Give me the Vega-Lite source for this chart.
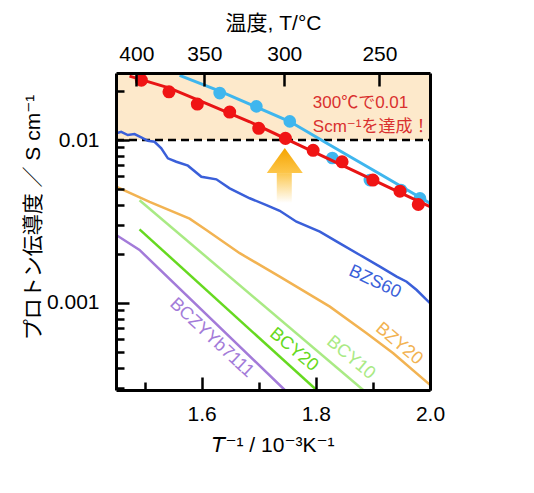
{
  "$schema": "https://vega.github.io/schema/vega-lite/v6.json",
  "width": 314,
  "height": 317,
  "autosize": {"type": "none"},
  "padding": {"left": 116, "top": 73, "right": 104, "bottom": 103},
  "background": "white",
  "config": {
    "font": "Liberation Sans, Noto Sans CJK JP, DejaVu Sans",
    "view": {"stroke": null},
    "axis": {"grid": false, "labelColor": "black", "titleColor": "black", "tickColor": "black", "domainColor": "black", "titleFontWeight": "normal", "labelFlush": false, "labelOverlap": false}
  },
  "datasets": {
    "lines": [
      {"s": "BZS60", "x": 1.4503, "y": 0.01099},
      {"s": "BZS60", "x": 1.4591, "y": 0.01124},
      {"s": "BZS60", "x": 1.4707, "y": 0.01073},
      {"s": "BZS60", "x": 1.4825, "y": 0.01088},
      {"s": "BZS60", "x": 1.4942, "y": 0.01039},
      {"s": "BZS60", "x": 1.5058, "y": 0.0099},
      {"s": "BZS60", "x": 1.5175, "y": 0.00976},
      {"s": "BZS60", "x": 1.5293, "y": 0.00889},
      {"s": "BZS60", "x": 1.5409, "y": 0.00772},
      {"s": "BZS60", "x": 1.5556, "y": 0.00736},
      {"s": "BZS60", "x": 1.576, "y": 0.00696},
      {"s": "BZS60", "x": 1.5995, "y": 0.00595},
      {"s": "BZS60", "x": 1.6258, "y": 0.00574},
      {"s": "BZS60", "x": 1.6491, "y": 0.00505},
      {"s": "BZS60", "x": 1.6842, "y": 0.00439},
      {"s": "BZS60", "x": 1.7135, "y": 0.00399},
      {"s": "BZS60", "x": 1.7368, "y": 0.00368},
      {"s": "BZS60", "x": 1.7661, "y": 0.00315},
      {"s": "BZS60", "x": 1.807, "y": 0.00274},
      {"s": "BZS60", "x": 1.8421, "y": 0.00232},
      {"s": "BZS60", "x": 1.8772, "y": 0.00197},
      {"s": "BZS60", "x": 1.9123, "y": 0.00167},
      {"s": "BZS60", "x": 1.9416, "y": 0.00145},
      {"s": "BZS60", "x": 1.9591, "y": 0.00135},
      {"s": "BZS60", "x": 1.9767, "y": 0.0012},
      {"s": "BZS60", "x": 2.0, "y": 0.000996},
      {"s": "BZY20", "x": 1.4503, "y": 0.00517},
      {"s": "BZY20", "x": 1.5088, "y": 0.00417},
      {"s": "BZY20", "x": 1.5789, "y": 0.00329},
      {"s": "BZY20", "x": 1.6082, "y": 0.0028},
      {"s": "BZY20", "x": 1.6667, "y": 0.00202},
      {"s": "BZY20", "x": 1.7368, "y": 0.00145},
      {"s": "BZY20", "x": 1.7661, "y": 0.00126},
      {"s": "BZY20", "x": 1.8246, "y": 0.000949},
      {"s": "BZY20", "x": 1.889, "y": 0.000652},
      {"s": "BZY20", "x": 1.9356, "y": 0.000491},
      {"s": "BZY20", "x": 2.0, "y": 0.000314},
      {"s": "BCY10", "x": 1.4912, "y": 0.00427},
      {"s": "BCY10", "x": 1.883, "y": 0.000292},
      {"s": "BCY20", "x": 1.4912, "y": 0.00283},
      {"s": "BCY20", "x": 1.8012, "y": 0.000292},
      {"s": "BCZYYb7111", "x": 1.4503, "y": 0.002614},
      {"s": "BCZYYb7111", "x": 1.4912, "y": 0.002114},
      {"s": "BCZYYb7111", "x": 1.7456, "y": 0.000292}
    ],
    "blueFit": [
      {"x": 1.5614, "y": 0.02495},
      {"x": 1.6316, "y": 0.01998},
      {"x": 1.6942, "y": 0.01605},
      {"x": 1.7544, "y": 0.01299},
      {"x": 1.8246, "y": 0.00932},
      {"x": 1.9123, "y": 0.00619},
      {"x": 2.0, "y": 0.00409}
    ],
    "bluePts": [
      {"x": 1.6316, "y": 0.01943},
      {"x": 1.6959, "y": 0.0161},
      {"x": 1.7544, "y": 0.01302},
      {"x": 1.8289, "y": 0.00776},
      {"x": 1.8947, "y": 0.00568},
      {"x": 1.9491, "y": 0.00493},
      {"x": 1.9825, "y": 0.00438}
    ],
    "redFit": [
      {"x": 1.4737, "y": 0.0247},
      {"x": 1.5439, "y": 0.02085},
      {"x": 1.614, "y": 0.01644},
      {"x": 1.6842, "y": 0.01295},
      {"x": 1.7719, "y": 0.00928},
      {"x": 1.8596, "y": 0.00665},
      {"x": 1.9298, "y": 0.00509},
      {"x": 2.0, "y": 0.0039}
    ],
    "redPts": [
      {"x": 1.4944, "y": 0.02333},
      {"x": 1.5428, "y": 0.01978},
      {"x": 1.5925, "y": 0.01663},
      {"x": 1.6491, "y": 0.01485},
      {"x": 1.7, "y": 0.0118},
      {"x": 1.7468, "y": 0.01024},
      {"x": 1.7953, "y": 0.00865},
      {"x": 1.846, "y": 0.00735},
      {"x": 1.9, "y": 0.00568},
      {"x": 1.9474, "y": 0.00485},
      {"x": 1.9795, "y": 0.00402}
    ],
    "labels": [
      {"t": "BZS60", "x": 1.9035, "y": 0.001345, "a": 25, "c": "#3a5fd9"},
      {"t": "BZY20", "x": 1.9456, "y": 0.00056, "a": 40, "c": "#f2b352"},
      {"t": "BCY10", "x": 1.8614, "y": 0.00046, "a": 40, "c": "#a9ea84"},
      {"t": "BCY20", "x": 1.7614, "y": 0.000515, "a": 40, "c": "#66d920"},
      {"t": "BCZYYb7111", "x": 1.6175, "y": 0.00061, "a": 43, "c": "#a37bd9"}
    ]
  },
  "resolve": {"axis": {"x": "independent", "y": "independent"}},
  "layer": [
    {
      "data": {"values": [{"x": 1.45, "x2": 2.0, "y": 0.01, "y2": 0.0258}]},
      "mark": {"type": "rect", "color": "#fde9cb"},
      "encoding": {
        "x": {"field": "x", "type": "quantitative", "scale": {"domain": [1.45, 2.0], "nice": false, "zero": false},
          "axis": {"orient": "bottom", "values": [1.6, 1.8, 2.0], "format": ".1f", "tickSize": -13, "tickWidth": 2.5, "domain": true, "domainWidth": 3, "labelFontSize": 21, "labelPadding": 26, "title": "𝘛⁻¹ / 10⁻³K⁻¹", "titleFontSize": 21, "titleY": 55, "titleBaseline": "middle", "zindex": 2}},
        "x2": {"field": "x2"},
        "y": {"field": "y", "type": "quantitative", "scale": {"type": "log", "domain": [0.000292, 0.0258], "nice": false},
          "axis": {"orient": "left", "values": [0.01, 0.001], "labelExpr": "datum.value > 0.005 ? '0.01' : '0.001'", "tickSize": -13, "tickWidth": 2.5, "domain": true, "domainWidth": 3, "labelFontSize": 21, "labelPadding": 30, "title": "プロトン伝導度  ／  S cm⁻¹", "titleFontSize": 21, "titleX": -83, "titleY": 144, "titleAngle": 270, "titleBaseline": "middle", "titleAlign": "center", "zindex": 2}},
        "y2": {"field": "y2"}
      }
    },
    {
      "data": {"values": [{"x": 1.45, "x2": 2.0, "y": 0.01}]},
      "mark": {"type": "rule", "color": "black", "strokeWidth": 2.5, "strokeDash": [8, 5]},
      "encoding": {
        "x": {"field": "x", "type": "quantitative",
          "axis": {"orient": "bottom", "values": [1.5, 1.7, 1.9], "labels": false, "tickSize": -8, "tickWidth": 2.5, "domain": false, "title": null, "zindex": 2}},
        "x2": {"field": "x2"},
        "y": {"field": "y", "type": "quantitative",
          "axis": {"orient": "left", "values": [0.0003, 0.0004, 0.0005, 0.0006, 0.0007, 0.0008, 0.0009, 0.002, 0.003, 0.004, 0.005, 0.006, 0.007, 0.008, 0.009, 0.02], "labels": false, "tickSize": -8, "tickWidth": 2.5, "domain": false, "title": null, "zindex": 2}}
      }
    },
    {
      "data": {"name": "lines"},
      "mark": {"type": "line", "strokeWidth": 2.5, "clip": true},
      "encoding": {
        "x": {"field": "x", "type": "quantitative",
          "axis": {"orient": "top", "values": [1.48558, 1.60475, 1.74474, 1.91137], "labelExpr": "format(1000 / datum.value - 273.15, '.0f')", "tickSize": -13, "tickWidth": 2.5, "domain": true, "domainWidth": 3, "labelFontSize": 21, "labelPadding": 22, "title": "温度, T/°C", "titleFontSize": 21, "titleY": -50, "titleBaseline": "middle", "zindex": 2}},
        "y": {"field": "y", "type": "quantitative",
          "axis": {"orient": "right", "ticks": false, "labels": false, "domain": true, "domainWidth": 3, "title": null, "zindex": 2}},
        "color": {"field": "s", "type": "nominal", "legend": null,
          "scale": {"domain": ["BZS60", "BZY20", "BCY10", "BCY20", "BCZYYb7111"], "range": ["#3a5fd9", "#f2b352", "#a9ea84", "#66d920", "#a37bd9"]}}
      }
    },
    {
      "data": {"name": "blueFit"},
      "mark": {"type": "line", "color": "#3fb6ee", "strokeWidth": 3, "clip": true},
      "encoding": {
        "x": {"field": "x", "type": "quantitative", "axis": null},
        "y": {"field": "y", "type": "quantitative", "axis": null}
      }
    },
    {
      "data": {"name": "bluePts"},
      "mark": {"type": "point", "shape": "circle", "filled": true, "color": "#3fb6ee", "opacity": 1, "size": 160},
      "encoding": {
        "x": {"field": "x", "type": "quantitative", "axis": null},
        "y": {"field": "y", "type": "quantitative", "axis": null}
      }
    },
    {
      "data": {"name": "redFit"},
      "mark": {"type": "line", "color": "#e81414", "strokeWidth": 3, "clip": true},
      "encoding": {
        "x": {"field": "x", "type": "quantitative", "axis": null},
        "y": {"field": "y", "type": "quantitative", "axis": null}
      }
    },
    {
      "data": {"name": "redPts"},
      "mark": {"type": "point", "shape": "circle", "filled": true, "color": "#f01414", "opacity": 1, "size": 170},
      "encoding": {
        "x": {"field": "x", "type": "quantitative", "axis": null},
        "y": {"field": "y", "type": "quantitative", "axis": null}
      }
    },
    {
      "data": {"values": [{"x": 1.7316, "x2": 1.7579, "y": 0.00627, "y2": 0.00411}]},
      "mark": {"type": "rect", "fill": {"gradient": "linear", "x1": 0, "y1": 0, "x2": 0, "y2": 1, "stops": [{"offset": 0, "color": "#fcc850"}, {"offset": 1, "color": "#ffffff"}]}},
      "encoding": {
        "x": {"field": "x", "type": "quantitative", "axis": null},
        "x2": {"field": "x2"},
        "y": {"field": "y", "type": "quantitative", "axis": null},
        "y2": {"field": "y2"}
      }
    },
    {
      "data": {"values": [{"x": 1.7456, "y": 0.00748}]},
      "mark": {"type": "point", "shape": "M -1 0.694 L 1 0.694 L 0 -0.694 Z", "size": 1296, "filled": true, "opacity": 1, "strokeWidth": 0, "fill": {"gradient": "linear", "x1": 0, "y1": 0, "x2": 0, "y2": 1, "stops": [{"offset": 0, "color": "#f5a400"}, {"offset": 1, "color": "#fdc64a"}]}},
      "encoding": {
        "x": {"field": "x", "type": "quantitative", "axis": null},
        "y": {"field": "y", "type": "quantitative", "axis": null}
      }
    },
    {
      "data": {"name": "labels"},
      "mark": {"type": "text", "fontSize": 18, "align": "center", "baseline": "middle"},
      "encoding": {
        "x": {"field": "x", "type": "quantitative", "axis": null},
        "y": {"field": "y", "type": "quantitative", "axis": null},
        "text": {"field": "t"},
        "angle": {"field": "a", "type": "quantitative", "scale": null},
        "color": {"field": "c", "type": "nominal", "scale": null}
      }
    },
    {
      "data": {"values": [{"t": "300℃で0.01", "x": 1.7947, "y": 0.0168}, {"t": "Scm⁻¹を達成！", "x": 1.7947, "y": 0.01207}]},
      "mark": {"type": "text", "fontSize": 17, "align": "left", "baseline": "middle", "color": "#d9302e"},
      "encoding": {
        "x": {"field": "x", "type": "quantitative", "axis": null},
        "y": {"field": "y", "type": "quantitative", "axis": null},
        "text": {"field": "t"}
      }
    }
  ]
}
